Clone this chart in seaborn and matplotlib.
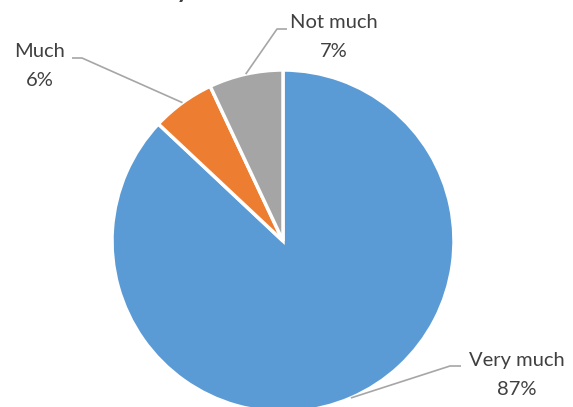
import numpy as np
import matplotlib
matplotlib.use("Agg")
import matplotlib.pyplot as plt
import seaborn as sns

categories = ["Very much", "Much", "Not much"]
values = [87, 6, 7]
pct_labels = ["87%", "6%", "7%"]
colors = ["#5B9BD5", "#ED7D31", "#A5A5A5"]

sns.set_theme(style="white")
plt.rcParams['font.family'] = ['Lato', 'DejaVu Sans']

W, H = 573, 407
fig = plt.figure(figsize=(W / 100, H / 100), dpi=100)
ax = fig.add_axes([0, 0, 1, 1])

cx, cy, r = 283, H - 241, 171
wedges, _ = ax.pie(values, colors=colors, startangle=90, counterclock=False,
                   center=(cx, cy), radius=r, frame=True,
                   wedgeprops=dict(edgecolor="white", linewidth=2.5))
ax.set_xlim(0, W)
ax.set_ylim(0, H)
ax.set_aspect("equal")
ax.axis("off")

# label positions (text center) and leader elbow points, in pixel coords (top-origin)
label_pos = {"Very much": (517, 375), "Much": (40, 66), "Not much": (334, 37)}
elbows = {"Very much": [(450, 366), (461, 366)],
          "Much": [(82, 58), (72, 58)],
          "Not much": [(277, 29), (287, 29)]}

for w, cat, pct in zip(wedges, categories, pct_labels):
    mid = np.deg2rad((w.theta1 + w.theta2) / 2)
    sx, sy = cx + r * np.cos(mid), cy + r * np.sin(mid)
    pts = [(sx, sy)] + [(x, H - y) for x, y in elbows[cat]]
    xs, ys = zip(*pts)
    ax.plot(xs, ys, color="#A6A6A6", lw=1.2, solid_capstyle="butt")
    tx, ty = label_pos[cat]
    ax.text(tx, H - ty, f"{cat}\n{pct}", ha="center", va="center",
            fontsize=14.5, color="#404040", linespacing=1.8)

# partially visible title descender at top
ax.text(183, H + 4, "y", ha="center", va="baseline", fontsize=24,
        color="#404040", clip_on=False)

fig.savefig("out.png", dpi=100)
